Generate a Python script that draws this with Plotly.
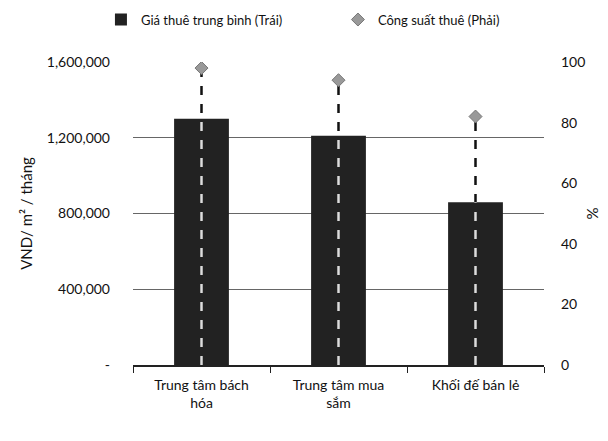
import plotly.graph_objects as go

categories = ["Trung tâm bách<br>hóa", "Trung tâm mua<br>sắm", "Khối đế bán lẻ"]
avg_rent = [1300000, 1210000, 860000]        # VND/m2/tháng (left)
occupancy = [98, 94, 82]                      # % (right)
left_max = 1600000
left_ticks = [0, 400000, 800000, 1200000, 1600000]
left_ticktext = ["-", "400,000", "800,000", "1,200,000", "1,600,000"]
right_ticks = [0, 20, 40, 60, 80, 100]

FONT = "Lato, Liberation Sans, sans-serif"

fig = go.Figure()
fig.add_trace(go.Bar(
    x=categories, y=avg_rent, name="Giá thuê trung bình (Trái)",
    marker=dict(color="#222222", line=dict(width=0)), width=0.4, yaxis="y",
))

# drop lines from marker to axis
for i, (c, occ, rent) in enumerate(zip(categories, occupancy, avg_rent)):
    fig.add_trace(go.Scatter(
        x=[c, c], y=[0, occ], mode="lines", yaxis="y2", showlegend=False,
        line=dict(color="#111111", width=2.5, dash="dash"), hoverinfo="skip",
    ))
    fig.add_trace(go.Scatter(
        x=[c, c], y=[0, rent / left_max * 100], mode="lines", yaxis="y2", showlegend=False,
        line=dict(color="#dddddd", width=2.5, dash="dash"), hoverinfo="skip",
    ))

fig.add_trace(go.Scatter(
    x=categories, y=occupancy, mode="markers", yaxis="y2",
    name="Công suất thuê (Phải)",
    marker=dict(symbol="diamond", size=10, color="#999999", line=dict(color="#777777", width=1)),
))

fig.update_layout(
    width=600, height=433,
    margin=dict(l=125, r=64, t=54, b=76, autoexpand=False),
    paper_bgcolor="white", plot_bgcolor="white",
    font=dict(family=FONT, size=14, color="#111111"),
    showlegend=True,
    legend=dict(orientation="h", x=-0.078, y=1.14, xanchor="left", yanchor="middle",
                font=dict(size=13), entrywidth=192, entrywidthmode="pixels",
                itemwidth=30, tracegroupgap=0, traceorder="normal"),
    xaxis=dict(showline=True, linecolor="#222222", linewidth=1.5, ticks="outside",
               tickson="boundaries", ticklen=6, tickcolor="#222222",
               tickfont=dict(size=14), showgrid=False, automargin=False,
               ticklabelstandoff=6),
    yaxis=dict(range=[0, left_max], tickvals=left_ticks, ticktext=left_ticktext,
               showgrid=True, gridcolor="#666666", gridwidth=1, zeroline=False,
               showline=False, ticks="", tickfont=dict(size=14), ticklabelstandoff=22,
               automargin=False,
               title=dict(text="VND/ m² / tháng", font=dict(size=15), standoff=10)),
    yaxis2=dict(range=[0, 100], tickvals=right_ticks, overlaying="y", side="right",
                showgrid=False, zeroline=False, showline=False, ticks="",
                tickfont=dict(size=14), ticklabelstandoff=16, automargin=False,
                title=dict(text="%", font=dict(size=15), standoff=3)),
)

fig.write_html("out.html")
